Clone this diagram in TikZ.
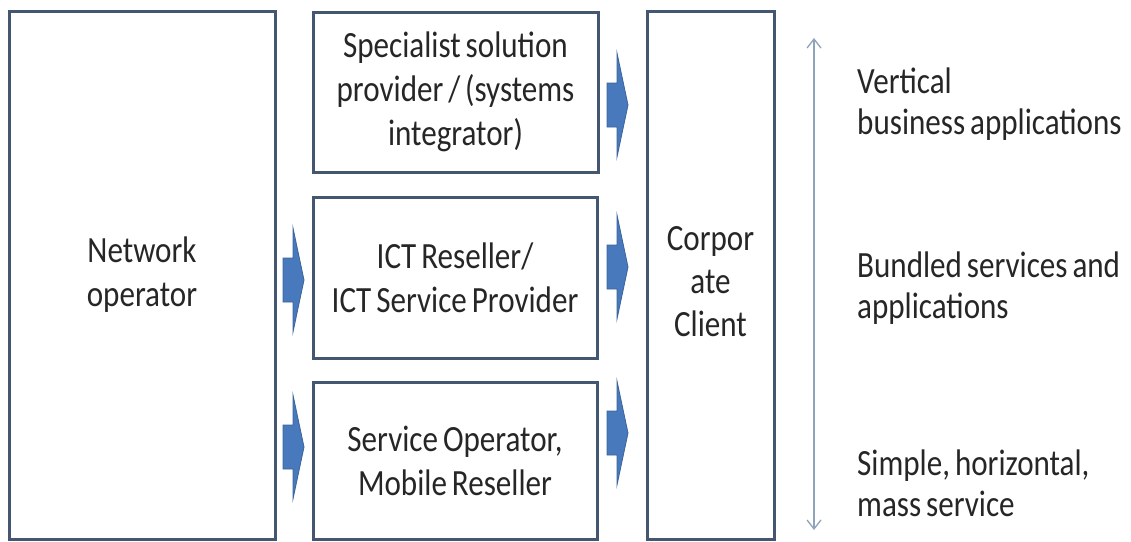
\documentclass[tikz,border=0pt]{standalone}
\usepackage{fontspec}
\setmainfont{Carlito}[FakeStretch=0.84, WordSpace=0.7]
\usetikzlibrary{arrows.meta}
\definecolor{boxline}{HTML}{435870}
\definecolor{arrfill}{HTML}{4879BD}
\definecolor{arrline}{HTML}{3A659A}
\definecolor{txt}{HTML}{262626}
\definecolor{vline}{HTML}{8FA3B9}
\begin{document}
\begin{tikzpicture}[x=1pt,y=-1pt,
  box/.style={draw=boxline, line width=3pt, fill=white, align=center, text=txt,
    inner sep=0pt, font=\fontsize{37}{44}\selectfont},
  boxtext/.style={align=center, text=txt, inner sep=0pt,
    font=\fontsize{37}{43}\selectfont},
  side/.style={anchor=west, align=left, text=txt, inner sep=0pt,
    font=\fontsize{37}{41}\selectfont},
  barrow/.pic={\filldraw[fill=arrfill, draw=arrline, line width=0.8pt]
    (0,-22) -- (10,-22) -- (10,-52) -- (21,0) -- (10,52) -- (10,22) -- (0,22) -- cycle;},
  dblarrow/.style={draw=vline, line width=1.3pt,
    {Straight Barb[length=9pt,width=14pt]}-{Straight Barb[length=9pt,width=14pt]}}
]
\useasboundingbox (0,0) rectangle (1131,541);
\fill[white] (0,0) rectangle (1131,541);

\node[box, minimum width=266pt, minimum height=528pt] (net) at (142,275) {Network\\operator};
\node[box, minimum width=285pt, minimum height=160pt] (spec) at (455.5,92) {Specialist solution\\provider / (systems\\integrator)};
\node[box, minimum width=284pt, minimum height=161pt] (ict) at (455,277.5) {ICT Reseller/\\ICT Service Provider};
\node[box, minimum width=284pt, minimum height=157pt] (svc) at (455,460.5) {Service Operator,\\Mobile Reseller};
\node[box, minimum width=127pt, minimum height=528pt] (corp) at (710.5,275) {};
\node[boxtext] (corptext) at ([yshift=-7pt]corp.center) {Corpor\\ate\\Client};

% block arrows network operator -> resellers
\coordinate (a1) at (283,280);
\coordinate (a2) at (283,447);
\pic at (a1) {barrow};
\pic at (a2) {barrow};
% block arrows resellers -> corporate client
\coordinate (b1) at (607,105);
\coordinate (b2) at (607,267);
\coordinate (b3) at (607,433);
\pic at (b1) {barrow};
\pic at (b2) {barrow};
\pic at (b3) {barrow};

% vertical scale arrow
\coordinate (vt) at (814,38);
\coordinate (vb) at (814,530);
\draw[dblarrow] (vt) -- (vb);

\node[side] (l1) at (857,104) {Vertical\\business applications};
\node[side] (l2) at (857,288) {Bundled services and\\applications};
\node[side] (l3) at (857,483) {Simple, horizontal,\\mass service};
\end{tikzpicture}
\end{document}
